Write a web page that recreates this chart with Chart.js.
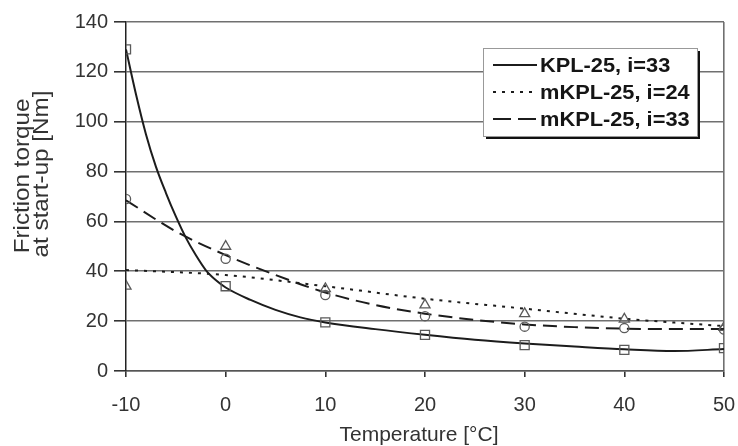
<!DOCTYPE html>
<html>
<head>
<meta charset="utf-8">
<script src="https://cdn.jsdelivr.net/npm/chart.js@4.4.0/dist/chart.umd.min.js"></script>
<style>
  html, body { margin: 0; padding: 0; background: #fff; }
</style>
</head>
<body>
<canvas id="chart" width="738" height="446"></canvas>
<script>
// measured points
var temps = [-10, 0, 10, 20, 30, 40, 50];
var kpl33 = [129, 34, 19.5, 14.5, 10.4, 8.5, 9.2];
var mkpl24 = [34, 50, 33, 26.5, 23, 20.8, 17.5];
var mkpl33 = [69, 45, 30.5, 22, 17.8, 17.2, 16.6];

// trend curves
var kplFitX = [-10, -9, -8, -7, -6, -5, -4, -3, -2, -1, 0, 2.5, 5, 7.5, 10, 15, 20, 25, 30, 35, 40, 45, 50];
var kplFitY = [129, 111, 95, 82, 71.5, 62, 53.5, 46.5, 40.5, 36.5, 33.5, 28.5, 24.5, 21.5, 19.5, 16.8, 14.5, 12.5, 11, 9.8, 8.7, 8, 8.8];
var m24FitX = [-10, 0, 10, 20, 30, 40, 50];
var m24FitY = [40.5, 38.5, 34, 29, 25, 21, 18];
var m33FitX = [-10, -5, 0, 5, 10, 15, 20, 25, 30, 35, 40, 45, 50];
var m33FitY = [68.5, 56, 46.5, 38.5, 31.5, 26.5, 23, 20.5, 18.7, 17.6, 17, 16.8, 16.8];

var xTicks = [-10, 0, 10, 20, 30, 40, 50];
var yTicks = [0, 20, 40, 60, 80, 100, 120, 140];
var legendLabels = ['KPL-25, i=33', 'mKPL-25, i=24', 'mKPL-25, i=33'];
var legendDash = [[], [3, 6], [18, 7]];

var FONT = '"Liberation Sans", Arial, sans-serif';

function pts(xs, ys) {
    return xs.map(function(x, i) { return { x: x, y: ys[i] }; });
}

function curve(label, xs, ys, dash) {
    return {
        type: 'line',
        label: label,
        data: pts(xs, ys),
        borderColor: '#1c1c1c',
        borderWidth: 2,
        borderDash: dash,
        pointRadius: 0,
        fill: false,
        cubicInterpolationMode: 'monotone',
        order: 2
    };
}

function marks(ys, style, r) {
    return {
        type: 'scatter',
        data: pts(temps, ys),
        pointStyle: style,
        pointRadius: r,
        borderColor: '#5a5a5a',
        backgroundColor: 'rgba(0,0,0,0)',
        borderWidth: 1.3,
        order: 1
    };
}

// legend box and axis titles
var decor = {
    id: 'decor',
    afterDatasetsDraw: function(chart) {
        var c = chart.ctx, a = chart.chartArea;
        var x = a.right - 241, y = a.top + 26, w = 214, h = 88;
        c.save();
        c.fillStyle = '#111';
        c.fillRect(x + 3, y + 3, w, h);
        c.fillStyle = '#fff';
        c.fillRect(x, y, w, h);
        c.strokeStyle = '#999';
        c.lineWidth = 1;
        c.strokeRect(x + 0.5, y + 0.5, w, h);
        c.font = 'bold 20px ' + FONT;
        c.textBaseline = 'middle';
        c.textAlign = 'left';
        for (var i = 0; i < legendLabels.length; i++) {
            var ly = y + 17 + i * 27;
            c.beginPath();
            c.setLineDash(legendDash[i]);
            c.strokeStyle = '#1c1c1c';
            c.lineWidth = 2;
            c.moveTo(x + 10, ly);
            c.lineTo(x + 54, ly);
            c.stroke();
            c.setLineDash([]);
            c.fillStyle = '#151515';
            c.save();
            c.translate(x + 57, ly + 1);
            c.scale(1.09, 1);
            c.fillText(legendLabels[i], 0, 0);
            c.restore();
        }

        c.fillStyle = '#333';
        c.font = '21px ' + FONT;
        c.textAlign = 'center';
        c.fillText('Temperature [\u00b0C]', 419, 435);
        c.font = '22px ' + FONT;
        c.save();
        c.translate(23, 176);
        c.rotate(-Math.PI / 2);
        c.scale(1.1, 1);
        c.fillText('Friction torque', 0, 0);
        c.restore();
        c.save();
        c.translate(42, 174);
        c.rotate(-Math.PI / 2);
        c.scale(1.1, 1);
        c.fillText('at start-up [Nm]', 0, 0);
        c.restore();
        c.restore();
    }
};

var chart = new Chart(document.getElementById('chart'), {
    data: {
        datasets: [
            curve(legendLabels[0], kplFitX, kplFitY, []),
            curve(legendLabels[1], m24FitX, m24FitY, [3, 6]),
            curve(legendLabels[2], m33FitX, m33FitY, [14, 7]),
            marks(kpl33, 'rect', 6.4),
            marks(mkpl24, 'triangle', 5.8),
            marks(mkpl33, 'circle', 4.6)
        ]
    },
    options: {
        responsive: false,
        animation: false,
        devicePixelRatio: 1,
        layout: { padding: { top: 22, right: 14, left: 0, bottom: 0 } },
        plugins: {
            legend: { display: false },
            tooltip: { enabled: false }
        },
        scales: {
            x: {
                type: 'linear',
                min: -10,
                max: 50,
                afterBuildTicks: function(s) { s.ticks = xTicks.map(function(v) { return { value: v }; }); },
                afterFit: function(s) { s.height = 75; s.paddingLeft = 0; s.paddingRight = 0; },
                ticks: { font: { family: FONT, size: 20 }, color: '#333', padding: 16, maxRotation: 0 },
                grid: {
                    color: function(ctx) { return ctx.tick && ctx.tick.value === 50 ? '#707070' : 'rgba(0,0,0,0)'; },
                    lineWidth: 1.6,
                    tickLength: 6,
                    tickColor: '#333'
                },
                border: { color: '#555', width: 1.6 }
            },
            y: {
                min: 0,
                max: 140,
                afterBuildTicks: function(s) { s.ticks = yTicks.map(function(v) { return { value: v }; }); },
                afterFit: function(s) { s.width = 126; },
                ticks: { font: { family: FONT, size: 20 }, color: '#333', padding: 6 },
                grid: { color: '#707070', lineWidth: 1.6, tickLength: 12, tickColor: '#333' },
                border: { color: '#222', width: 1.5 }
            }
        }
    },
    plugins: [decor]
});
</script>
</body>
</html>
